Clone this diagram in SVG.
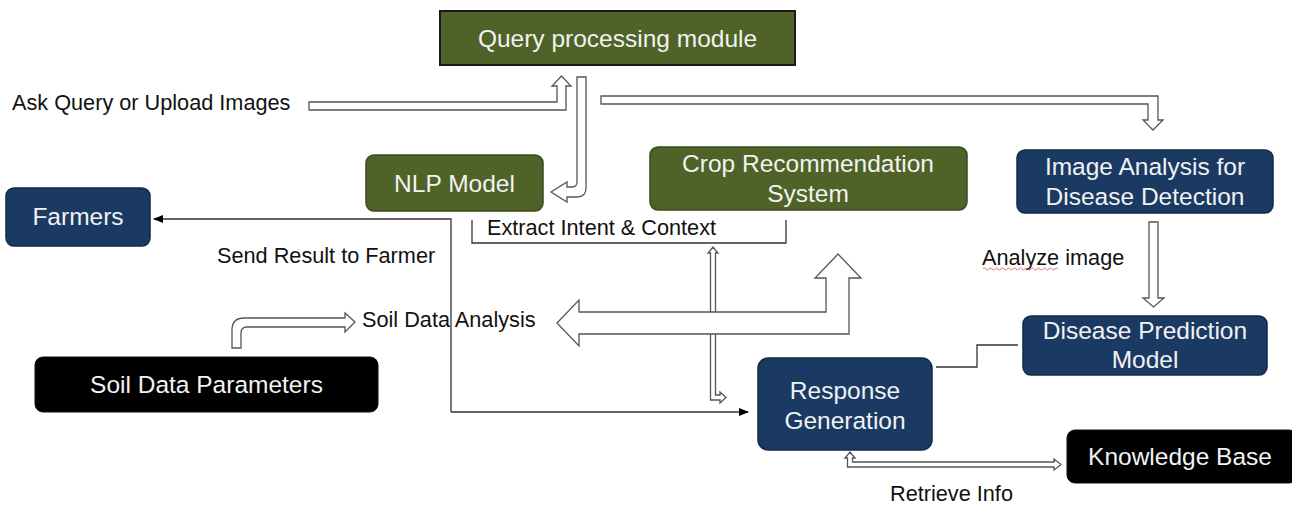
<svg xmlns="http://www.w3.org/2000/svg" width="1292" height="507" viewBox="0 0 1292 507">
<style>
.olive{fill:#4f6228;stroke:#3b4a1e;stroke-width:1.5}
.navy{fill:#1a3a63;stroke:#12294a;stroke-width:1.5}
.black{fill:#000;stroke:#111;stroke-width:1}
.nt{font-family:"Liberation Sans",Arial,sans-serif;font-size:24.5px;fill:#f2f2f2;text-anchor:middle}
.lbl{font-family:"Liberation Sans",Arial,sans-serif;font-size:21.7px;fill:#111}
.hollow{fill:#fff;stroke:#555;stroke-width:1.3;stroke-linejoin:miter}
.line{fill:none;stroke:#333;stroke-width:1.3}
</style>
<defs>
<marker id="ah" markerWidth="10" markerHeight="10" refX="9" refY="5" orient="auto" markerUnits="userSpaceOnUse">
<path d="M0,1 L10,5 L0,9 Z" fill="#000"/>
</marker>
</defs>
<rect width="1292" height="507" fill="#fff"/>

<g id="connectors">
<!-- Ask Query -> Query module -->
<polygon class="hollow" points="309,102 557,102 557,86 552,86 561.5,76 571,86 566,86 566,110 309,110"/>
<!-- Query module -> NLP -->
<path class="hollow" d="M577,77 L586,77 L586,188 Q586,197 577,197 L567,197 L567,202 L551,192 L567,182 L567,187 L572,187 Q577,187 577,182 Z"/>
<!-- Query module -> Image Analysis -->
<polygon class="hollow" points="601,96 1158,96 1158,120 1163,120 1153,130 1143,120 1148,120 1148,104 601,104"/>
<!-- Extract intent bracket -->
<polyline class="line" points="472,220 472,243 786,243 786,220"/>
<!-- Send result to farmer -->
<polyline class="line" points="451,412 451,219 154,219" marker-end="url(#ah)"/>
<polyline class="line" points="451,412 748,412" marker-end="url(#ah)"/>
<!-- Extract intent <-> Response generation -->
<polygon class="hollow" points="713,247 718,253 715.5,253 715.5,395 720,395 720,392 726,397.5 720,403 720,400 710.5,400 710.5,253 708,253"/>
<!-- Soil data analysis <-> crop recommendation -->
<polygon class="hollow" points="557,323 579,300 579,312 826,312 826,278 815,278 838,254 861,278 849,278 849,334 579,334 579,346"/>
<!-- Soil data parameters -> soil data analysis -->
<path class="hollow" d="M232,348 L232,330 Q232,318 244,318 L345,318 L345,313 L355,322 L345,332 L345,327 L247,327 Q241,327 241,333 L241,348 Z"/>
<!-- Image analysis -> disease prediction -->
<polygon class="hollow" points="1149,222 1158,222 1158,298 1164,298 1153.5,307 1143,298 1149,298"/>
<!-- Disease prediction - response -->
<polyline class="line" points="936,367 977,367 977,345 1018,345"/>
<!-- Response <-> Knowledge base -->
<polygon class="hollow" points="850,452 855,458 852.5,458 852.5,462 1054,462 1054,459 1061,464.5 1054,470 1054,467 847.5,467 847.5,458 845,458"/>
</g>

<g id="labels">
<text class="lbl" x="12" y="110">Ask Query or Upload Images</text>
<text class="lbl" x="487" y="235">Extract Intent &amp; Context</text>
<text class="lbl" x="217" y="263">Send Result to Farmer</text>
<text class="lbl" x="362" y="327">Soil Data Analysis</text>
<text class="lbl" x="982" y="265">Analyze image</text>
<path d="M983,269 q1.5,-2 3,0 t3,0 t3,0 t3,0 t3,0 t3,0 t3,0 t3,0 t3,0 t3,0 t3,0 t3,0 t3,0 t3,0 t3,0 t3,0 t3,0 t3,0 t3,0 t3,0 t3,0 t3,0 t3,0 t3,0 t3,0" fill="none" stroke="#e05050" stroke-width="0.8"/>
<text class="lbl" x="890" y="501">Retrieve Info</text>
</g>

<g id="query-module">
<rect x="440" y="11" width="355" height="54" fill="#4f6228" stroke="#1a1a1a" stroke-width="2"/>
<text class="nt" x="617.5" y="47">Query processing module</text>
</g>
<g id="nlp-model">
<rect class="olive" x="366" y="155" width="177" height="56" rx="8"/>
<text class="nt" x="454.5" y="192">NLP Model</text>
</g>
<g id="crop-recommendation">
<rect class="olive" x="650" y="147" width="317" height="63" rx="8"/>
<text class="nt" x="808" y="172">Crop Recommendation</text>
<text class="nt" x="808" y="202">System</text>
</g>
<g id="image-analysis">
<rect class="navy" x="1017" y="150" width="256" height="63" rx="8"/>
<text class="nt" x="1145" y="175">Image Analysis for</text>
<text class="nt" x="1145" y="205">Disease Detection</text>
</g>
<g id="farmers">
<rect class="navy" x="6" y="188" width="144" height="58" rx="8"/>
<text class="nt" x="78" y="225">Farmers</text>
</g>
<g id="soil-data-parameters">
<rect class="black" x="35" y="357" width="343" height="55" rx="8"/>
<text class="nt" x="206.5" y="393">Soil Data Parameters</text>
</g>
<g id="response-generation">
<rect class="navy" x="758" y="358" width="174" height="92" rx="10"/>
<text class="nt" x="845" y="399">Response</text>
<text class="nt" x="845" y="429">Generation</text>
</g>
<g id="disease-prediction">
<rect class="navy" x="1023" y="316" width="244" height="59" rx="8"/>
<text class="nt" x="1145" y="339">Disease Prediction</text>
<text class="nt" x="1145" y="368">Model</text>
</g>
<g id="knowledge-base">
<rect class="black" x="1067" y="430" width="230" height="53" rx="8"/>
<text class="nt" x="1180" y="465">Knowledge Base</text>
</g>
</svg>
